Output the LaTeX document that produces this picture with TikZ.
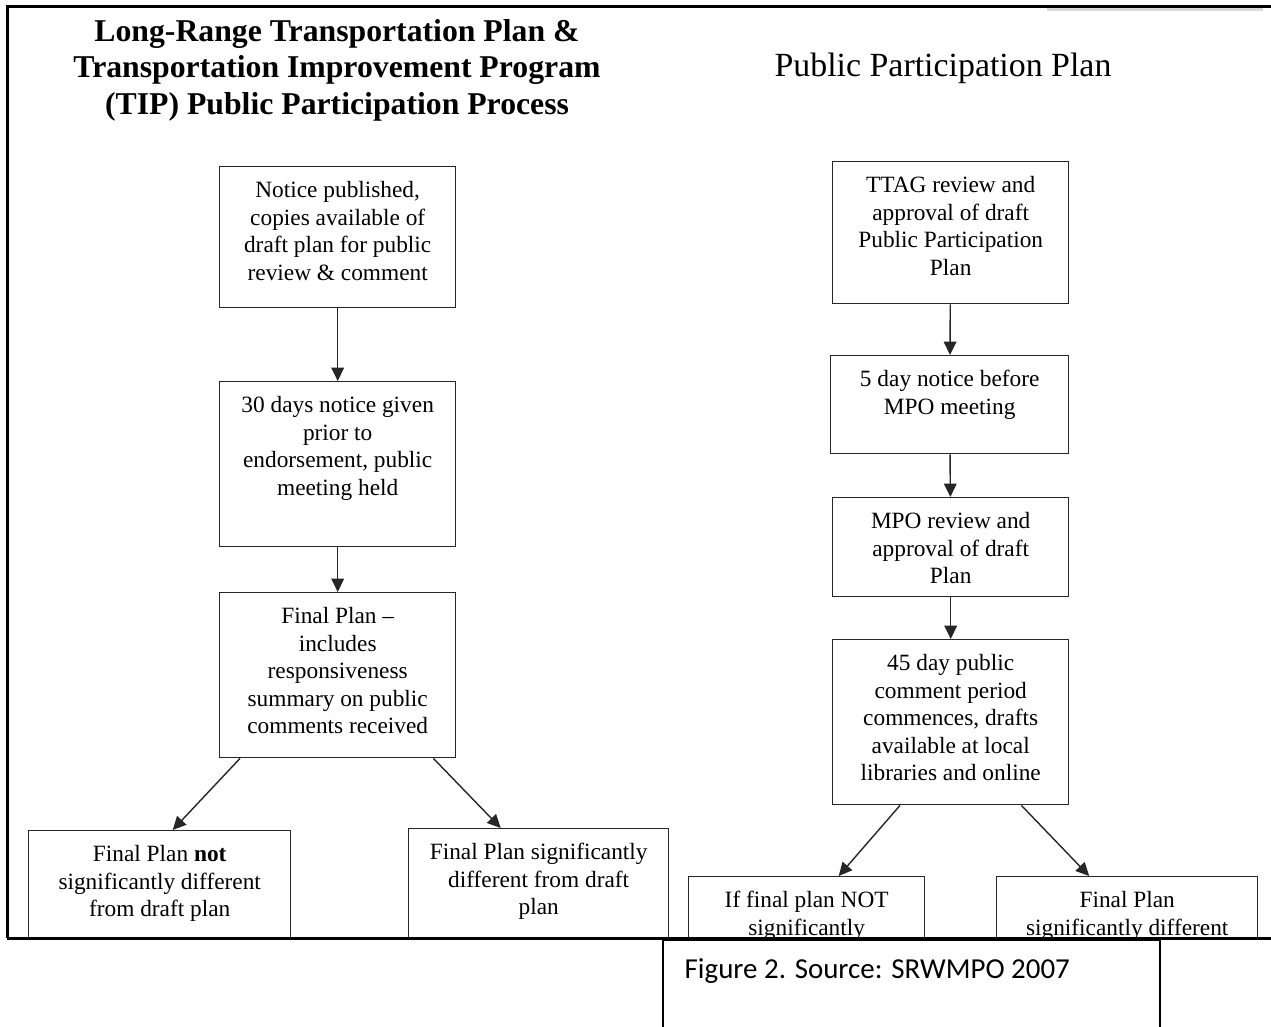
\documentclass[tikz,border=0pt]{standalone}
\usepackage{fontspec}
\setmainfont{Liberation Serif}
\newfontfamily\captionfont{Carlito}
\usetikzlibrary{arrows.meta}

\newlength{\px}
\setlength{\px}{0.75pt}
% box text: width, height (in px), text set from the top
\newcommand{\boxbody}[3]{%
  \begin{minipage}[t][#2\px][t]{#1\px}\centering\vspace*{12\px}\strut#3\end{minipage}}

\tikzset{
  stepbox/.style={draw=black!85, line width=1.05pt, inner sep=0pt,
    anchor=north west, font=\fontsize{17.5}{20.6}\selectfont},
  flowarrow/.style={draw=black!85, line width=1.05pt,
    -{Triangle[length=10pt,width=9.5pt]}},
  frameline/.style={line width=2.25pt, black},
}

\begin{document}
\begin{tikzpicture}[x=0.75pt,y=-0.75pt]
  \useasboundingbox (0,0) rectangle (1271,1027);
  \begin{scope}
    \clip (0,0) rectangle (1271,938);
    % titles
    \node[font=\fontsize{23.8}{27.4}\selectfont\bfseries, align=center] (lrtitle) at (337,70)
      {Long-Range Transportation Plan \&\\ Transportation Improvement Program\\ (TIP) Public Participation Process};
    \node[font=\fontsize{25.4}{28}\selectfont] (pptitle) at (943,68) {Public Participation Plan};

    % left column
    \node[stepbox] (notice) at (219,166)
      {\boxbody{236}{141}{Notice published,\\ copies available of\\ draft plan for public\\ review \& comment}};
    \node[stepbox] (thirty) at (219,381)
      {\boxbody{236}{165}{30 days notice given\\ prior to\\ endorsement, public\\ meeting held}};
    \node[stepbox] (final) at (219,592)
      {\boxbody{236}{165}{Final Plan --\\ includes\\ responsiveness\\ summary on public\\ comments received}};
    \node[stepbox] (notdiff) at (28,830)
      {\boxbody{262}{130}{Final Plan \textbf{not}\\ significantly different\\ from draft plan}};
    \node[stepbox] (diff) at (408,828)
      {\boxbody{260}{130}{Final Plan significantly\\ different from draft\\ plan}};

    % right column
    \node[stepbox] (ttag) at (832,161)
      {\boxbody{236}{142}{TTAG review and\\ approval of draft\\ Public Participation\\ Plan}};
    \node[stepbox] (fiveday) at (830,355)
      {\boxbody{238}{98}{5 day notice before\\ MPO meeting}};
    \node[stepbox] (mpo) at (832,497)
      {\boxbody{236}{99}{MPO review and\\ approval of draft\\ Plan}};
    \node[stepbox] (comment) at (832,639)
      {\boxbody{236}{165}{45 day public\\ comment period\\ commences, drafts\\ available at local\\ libraries and online}};
    \node[stepbox] (ifnot) at (688,876)
      {\boxbody{236}{100}{If final plan NOT\\ significantly}};
    \node[stepbox] (ifdiff) at (996,876)
      {\boxbody{261}{100}{Final Plan\\ significantly different}};

    % arrows
    \draw[flowarrow] (notice) -- (thirty);
    \draw[flowarrow] (thirty) -- (final);
    \draw[flowarrow] ([xshift=15.75pt]final.south west) -- ([xshift=9.75pt]notdiff.north);
    \draw[flowarrow] ([xshift=-17.25pt]final.south east) -- ([xshift=-28.5pt]diff.north);
    \draw[flowarrow] (ttag) -- (fiveday);
    \draw[flowarrow] (fiveday) -- (mpo);
    \draw[flowarrow] (mpo) -- (comment);
    \draw[flowarrow] ([xshift=51pt]comment.south west) -- ([xshift=24pt]ifnot.north);
    \draw[flowarrow] ([xshift=-36pt]comment.south east) -- ([xshift=-28.5pt]ifdiff.north);
  \end{scope}

  % page frame
  \draw[line width=1.9pt, black!15] (1047,9.5) -- (1263,9.5);
  \draw[frameline] (7,938) -- (7,7) -- (1271,7);
  \draw[frameline] (7,938) -- (1271,938);

  % caption box
  \draw[line width=1.2pt] (663,1027) -- (663,940) -- (1160,940) -- (1160,1027);
  \node[font=\captionfont\fontsize{21.7}{26}\selectfont, anchor=west] (caption) at (680,971)
    {Figure 2. Source: SRWMPO 2007};
\end{tikzpicture}
\end{document}
